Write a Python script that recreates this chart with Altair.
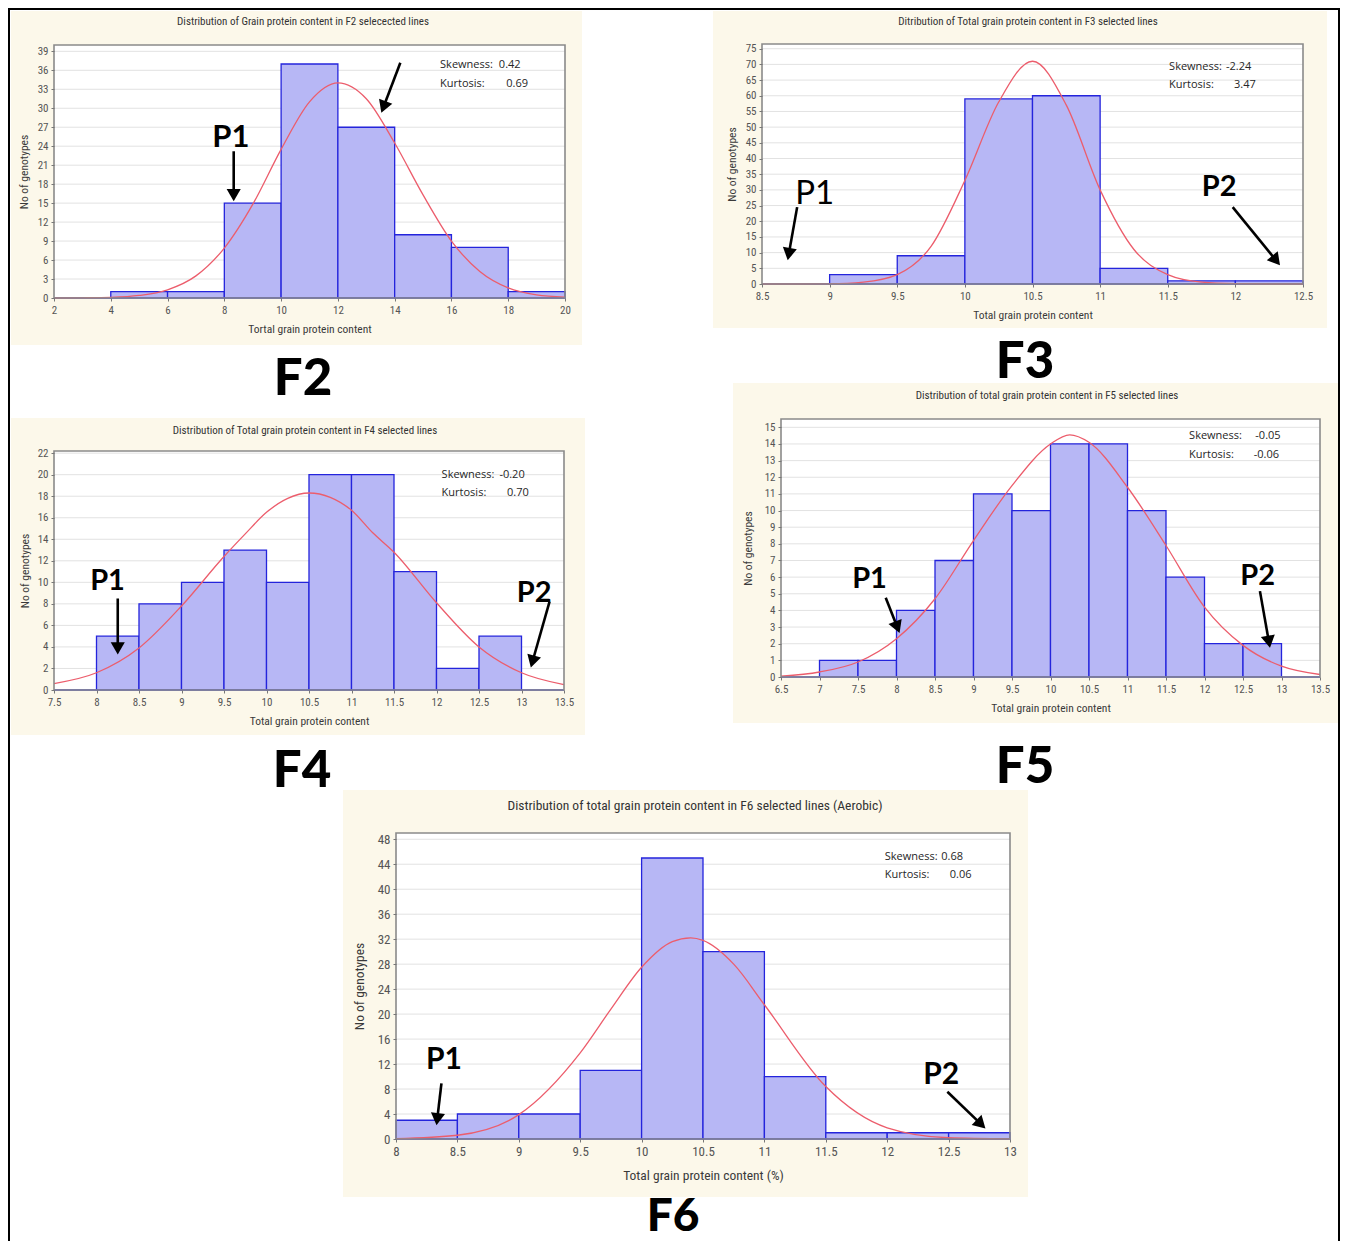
import math
import altair as alt
import pandas as pd

# ---------------- values ----------------
F2_EDGES = [2, 4, 6, 8, 10, 12, 14, 16, 18, 20]
F2_COUNTS = [0, 1, 1, 15, 37, 27, 10, 8, 1]
F2_CURVE_X = [2, 3, 4, 5, 6, 7, 8, 9, 10, 11, 12, 13, 14, 15, 16, 17, 18, 19, 20]
F2_CURVE_Y = [0.0, 0.03, 0.1, 0.4, 1.3, 3.5, 7.9, 14.8, 23.5, 31.0, 34.0, 31.5, 24.5, 16.3, 9.0, 4.2, 1.6, 0.5, 0.15]
F2_STATS = ["0.42", "0.69"]

F3_EDGES = [8.5, 9, 9.5, 10, 10.5, 11, 11.5, 12, 12.5]
F3_COUNTS = [0, 3, 9, 59, 60, 5, 1, 1]
F3_CURVE_X = [8.5, 8.75, 9, 9.25, 9.5, 9.75, 10, 10.25, 10.5, 10.75, 11, 11.25, 11.5, 11.75, 12, 12.25, 12.5]
F3_CURVE_Y = [0, 0, 0.05, 0.6, 3, 12, 33, 58, 71, 57, 30, 11, 3, 0.6, 0.1, 0, 0]
F3_STATS = ["-2.24", "3.47"]

F4_EDGES = [7.5, 8, 8.5, 9, 9.5, 10, 10.5, 11, 11.5, 12, 12.5, 13, 13.5]
F4_COUNTS = [0, 5, 8, 10, 13, 10, 20, 20, 11, 2, 5, 0]
F4_CURVE_X = [7.5, 8, 8.5, 9, 9.5, 9.75, 10, 10.25, 10.5, 10.75, 11, 11.25, 11.5, 12, 12.5, 13, 13.5]
F4_CURVE_Y = [0.6, 1.6, 3.9, 7.8, 12.4, 14.5, 16.5, 17.8, 18.3, 17.9, 16.7, 14.6, 12.8, 8.1, 4.0, 1.6, 0.5]
F4_STATS = ["-0.20", "0.70"]

F5_EDGES = [6.5, 7, 7.5, 8, 8.5, 9, 9.5, 10, 10.5, 11, 11.5, 12, 12.5, 13, 13.5]
F5_COUNTS = [0, 1, 1, 4, 7, 11, 10, 14, 14, 10, 6, 2, 2, 0]
F5_CURVE_X = [6.5, 7, 7.5, 8, 8.5, 9, 9.5, 10, 10.25, 10.5, 11, 11.5, 12, 12.5, 13, 13.5]
F5_CURVE_Y = [0.05, 0.3, 0.9, 2.3, 4.7, 8.2, 11.5, 14.0, 14.55, 14.1, 11.4, 7.9, 4.2, 1.9, 0.65, 0.15]
F5_STATS = ["-0.05", "-0.06"]

F6_EDGES = [8, 8.5, 9, 9.5, 10, 10.5, 11, 11.5, 12, 12.5, 13]
F6_COUNTS = [3, 4, 4, 11, 45, 30, 10, 1, 1, 1]
F6_CURVE_X = [8, 8.5, 9, 9.5, 9.75, 10, 10.25, 10.4, 10.5, 10.75, 11, 11.5, 12, 12.5, 13]
F6_CURVE_Y = [0.05, 0.6, 3.9, 13.8, 20.8, 27.5, 31.6, 32.2, 31.8, 28.0, 21.5, 8.4, 1.8, 0.2, 0.02]
F6_STATS = ["0.68", "0.06"]

TITLES = {
    "F2": "Distribution of Grain protein content in F2 selecected lines",
    "F3": "Ditribution of Total grain protein content in F3 selected lines",
    "F4": "Distribution of Total grain protein content in F4 selected lines",
    "F5": "Distribution of total grain protein content in F5 selected lines",
    "F6": "Distribution of total grain protein content in F6 selected lines (Aerobic)",
}
XTITLES = {
    "F2": "Tortal grain protein content",
    "F3": "Total grain protein content",
    "F4": "Total grain protein content",
    "F5": "Total grain protein content",
    "F6": "Total grain protein content (%)",
}
YTITLE = "No of genotypes"
STAT_LABELS = ["Skewness:", "Kurtosis:"]

X_TICKS = {
    "F2": [2, 4, 6, 8, 10, 12, 14, 16, 18, 20],
    "F3": [8.5, 9, 9.5, 10, 10.5, 11, 11.5, 12, 12.5],
    "F4": [7.5, 8, 8.5, 9, 9.5, 10, 10.5, 11, 11.5, 12, 12.5, 13, 13.5],
    "F5": [6.5, 7, 7.5, 8, 8.5, 9, 9.5, 10, 10.5, 11, 11.5, 12, 12.5, 13, 13.5],
    "F6": [8, 8.5, 9, 9.5, 10, 10.5, 11, 11.5, 12, 12.5, 13],
}
Y_TICKS = {
    "F2": [0, 3, 6, 9, 12, 15, 18, 21, 24, 27, 30, 33, 36, 39],
    "F3": [0, 5, 10, 15, 20, 25, 30, 35, 40, 45, 50, 55, 60, 65, 70, 75],
    "F4": [0, 2, 4, 6, 8, 10, 12, 14, 16, 18, 20, 22],
    "F5": [0, 1, 2, 3, 4, 5, 6, 7, 8, 9, 10, 11, 12, 13, 14, 15],
    "F6": [0, 4, 8, 12, 16, 20, 24, 28, 32, 36, 40, 44, 48],
}

DATA = {
    "F2": (F2_EDGES, F2_COUNTS, F2_CURVE_X, F2_CURVE_Y, F2_STATS),
    "F3": (F3_EDGES, F3_COUNTS, F3_CURVE_X, F3_CURVE_Y, F3_STATS),
    "F4": (F4_EDGES, F4_COUNTS, F4_CURVE_X, F4_CURVE_Y, F4_STATS),
    "F5": (F5_EDGES, F5_COUNTS, F5_CURVE_X, F5_CURVE_Y, F5_STATS),
    "F6": (F6_EDGES, F6_COUNTS, F6_CURVE_X, F6_CURVE_Y, F6_STATS),
}

# ---------------- layout / styling (page pixel coordinates) ----------------
# each panel is a tile (grid cell); the plot area sits inside it at "plot"
LAYOUT = {
    "F2": dict(tile=(8, 8, 650, 408), plot=(54, 45, 511, 253), cream=(11, 11, 582, 345),
               xdom=(2, 20), ydom=(0, 40), title=(303, 22),
               fs_lab=11, fs_title=11, fs_axt=11.5, ytp=8, xtp=8, lp=3),
    "F3": dict(tile=(650, 8, 1340, 330), plot=(762, 44, 541, 240), cream=(713, 11, 1327, 328),
               xdom=(8.5, 12.5), ydom=(0, 76.5), title=(1028, 22),
               fs_lab=11, fs_title=11, fs_axt=11.5, ytp=8, xtp=8, lp=3),
    "F4": dict(tile=(8, 408, 650, 740), plot=(54, 451, 510, 239), cream=(11, 418, 585, 735),
               xdom=(7.5, 13.5), ydom=(0, 22.2), title=(305, 431),
               fs_lab=11, fs_title=11, fs_axt=11.5, ytp=7, xtp=8, lp=3),
    "F5": dict(tile=(650, 330, 1340, 740), plot=(781, 419, 539, 258), cream=(733, 383, 1338, 723),
               xdom=(6.5, 13.5), ydom=(0, 15.5), title=(1047, 396),
               fs_lab=11, fs_title=11, fs_axt=11.5, ytp=11, xtp=8, lp=3),
    "F6": dict(tile=(8, 740, 1340, 1253), plot=(396, 833, 614, 306), cream=(343, 790, 1028, 1197),
               xdom=(8, 13), ydom=(0, 49), title=(695, 806),
               fs_lab=13, fs_title=13.5, fs_axt=13.5, ytp=11, xtp=10, lp=3),
}
# big generation labels: (text, tile that hosts it, centre x, baseline y, font size)
BIG_LABELS = [("F2", "F2", 303, 395, 51), ("F3", "F5", 1025, 378, 51), ("F4", "F6", 302, 787, 51),
              ("F5", "F6", 1025, 783, 51), ("F6", "F6", 673, 1231, 46)]
# outer frame pieces (page coords x0, x1, y0, y1) per hosting tile
BORDER = {
    "F2": [(8, 10, 8, 408), (8, 650, 8, 10)],
    "F3": [(650, 1340, 8, 10), (1338, 1340, 8, 330)],
    "F4": [(8, 10, 408, 740)],
    "F5": [(1338, 1340, 330, 740)],
    "F6": [(8, 10, 740, 1253), (1338, 1340, 740, 1253)],
}

# annotation positions in data coordinates
ANNOT = {
    "F2": dict(p=[("P1", 8.23, 25.3, 31, "bold")],
               arrows=[(8.33, 23.2, 8.33, 15.3), (14.2, 37.2, 13.53, 29.3)],
               stats=(15.6, 17.67, 17.93, 36.9, 33.9)),
    "F3": dict(p=[("P1", 8.89, 28.8, 33, "normal"), ("P2", 11.88, 30.9, 29, "bold")],
               arrows=[(8.76, 24.5, 8.69, 7.6), (11.98, 24.5, 12.33, 6.0)],
               stats=(11.51, 11.93, 11.99, 69.2, 63.5)),
    "F4": dict(p=[("P1", 8.13, 10.1, 29, "bold"), ("P2", 13.15, 9.0, 29, "bold")],
               arrows=[(8.25, 8.5, 8.25, 3.3), (13.33, 8.2, 13.11, 2.1)],
               stats=(12.06, 12.74, 12.83, 20.0, 18.3)),
    "F5": dict(p=[("P1", 7.65, 5.86, 29, "bold"), ("P2", 12.69, 6.06, 29, "bold")],
               arrows=[(7.86, 4.76, 8.04, 2.65), (12.72, 5.16, 12.85, 1.75)],
               stats=(11.8, 12.66, 12.64, 14.46, 13.33)),
    "F6": dict(p=[("P1", 8.39, 12.6, 30, "bold"), ("P2", 12.44, 10.2, 30, "bold")],
               arrows=[(8.37, 8.9, 8.33, 2.2), (12.49, 7.56, 12.80, 1.7)],
               stats=(11.98, 12.44, 12.51, 45.2, 42.3)),
}

NARROW = "Liberation Sans Narrow, Arial Narrow, Roboto Condensed, Liberation Sans, sans-serif"
STATFONT = "Open Sans, Liberation Sans, sans-serif"
BIGFONT = "Lato, Open Sans, Liberation Sans, sans-serif"
CREAM = "#fcf8ea"
BAR_FILL = "#b7b7f5"
BAR_STROKE = "#2424dc"
CURVE = "#ec5d6c"
FRAME = "#8a8a8a"
GRID = "#e2e2e2"
ARROW_SIZE = 200


def one():
    return pd.DataFrame({"k": [0]})


def vrect(x0, x1, y0, y1, **kw):
    return alt.Chart(one()).mark_rect(**kw).encode(
        x=alt.value(x0), x2=alt.value(x1), y=alt.value(y0), y2=alt.value(y1))


def make_panel(key):
    L = LAYOUT[key]
    A = ANNOT[key]
    edges, counts, cx, cy, stats = DATA[key]
    tx0, ty0, tx1, ty1 = L["tile"]
    TW, TH = tx1 - tx0, ty1 - ty0
    pl, pt, W, H = L["plot"]
    # plot area relative to the tile
    rl, rt = pl - tx0, pt - ty0
    rr, rb = rl + W, rt + H
    x0, x1 = L["xdom"]
    y0, y1 = L["ydom"]

    xs = alt.Scale(domain=[x0, x1], range=[rl, rr], nice=False, zero=False)
    ys = alt.Scale(domain=[y0, y1], range=[rb, rt], nice=False, zero=False)
    xax = alt.Axis(title=XTITLES[key], values=X_TICKS[key], format="~g", grid=False, domain=False,
                   offset=-(TH - rb), tickSize=3, tickColor="#777", labelFont=NARROW,
                   labelFontSize=L["fs_lab"], labelColor="#555", labelPadding=L["lp"],
                   labelFlush=False, labelOverlap=False,
                   titleFont=NARROW, titleFontSize=L["fs_axt"], titleFontWeight="normal",
                   titleColor="#3a3a3a", titlePadding=L["xtp"], zindex=1)
    yax = alt.Axis(title=YTITLE, values=Y_TICKS[key], format="d", grid=False, domain=False,
                   offset=-rl, tickSize=3, tickColor="#777", labelFont=NARROW,
                   labelFontSize=L["fs_lab"], labelColor="#555", labelPadding=3, labelOverlap=False,
                   titleFont=NARROW, titleFontSize=L["fs_axt"], titleFontWeight="normal",
                   titleColor="#3a3a3a", titlePadding=L["ytp"], zindex=1)

    def X(f):
        return alt.X(f, type="quantitative", scale=xs, axis=xax)

    def Y(f):
        return alt.Y(f, type="quantitative", scale=ys, axis=yax)

    def tox(v):
        return rl + (v - x0) / (x1 - x0) * W

    def toy(v):
        return rb - (v - y0) / (y1 - y0) * H

    def fromx(p):
        return x0 + (p - rl) / W * (x1 - x0)

    def fromy(p):
        return y0 + (rb - p) / H * (y1 - y0)

    layers = []
    # cream panel background
    c0, c1, c2, c3 = L["cream"]
    layers.append(vrect(c0 - tx0, c2 - tx0, c1 - ty0, c3 - ty0, fill=CREAM))
    # white plot area
    layers.append(vrect(rl, rr, rt, rb, fill="white"))
    # horizontal grid lines
    grid_df = pd.DataFrame({"g": [v for v in Y_TICKS[key] if v > y0]})
    layers.append(alt.Chart(grid_df).mark_rule(color=GRID, strokeWidth=1).encode(
        y=Y("g"), x=alt.value(rl), x2=alt.value(rr)))
    # histogram bars
    bars = pd.DataFrame({"lo": edges[:-1], "hi": edges[1:], "count": counts})
    layers.append(alt.Chart(bars).mark_rect(fill=BAR_FILL, stroke=BAR_STROKE, strokeWidth=1.3).encode(
        x=X("lo"), x2="hi:Q", y=Y("count"), y2=alt.datum(0)))
    # fitted normal curve
    curve = pd.DataFrame({"cx": cx, "cy": cy})
    layers.append(alt.Chart(curve).mark_line(color=CURVE, strokeWidth=1.3, interpolate="monotone").encode(
        x=X("cx"), y=Y("cy")))
    # plot frame
    layers.append(vrect(rl, rr, rt, rb, fillOpacity=0, stroke=FRAME, strokeWidth=1.6))

    # panel title
    tcx, tcy = L["title"]
    layers.append(alt.Chart(pd.DataFrame({"t": [TITLES[key]]})).mark_text(
        font=NARROW, fontSize=L["fs_title"], color="#333", align="center", baseline="middle").encode(
        x=alt.value(tcx - tx0), y=alt.value(tcy - ty0), text="t:N"))

    # skewness / kurtosis text
    lx, vsx, vkx, sy, ky = A["stats"]
    st = pd.DataFrame({"sx": [lx, lx, vsx, vkx], "sy": [sy, ky, sy, ky],
                       "t": [STAT_LABELS[0], STAT_LABELS[1], stats[0], stats[1]]})
    layers.append(alt.Chart(st).mark_text(font=STATFONT, fontSize=11, color="#262626", align="left",
                                           baseline="middle").encode(x=X("sx"), y=Y("sy"), text="t:N"))

    # arrows
    h = math.sqrt(3) * math.sqrt(ARROW_SIZE) / 4
    rows = []
    for (ax, ay, bx, by) in A["arrows"]:
        sx_, sy_ = tox(ax), toy(ay)
        ex, ey = tox(bx), toy(by)
        dx, dy = ex - sx_, ey - sy_
        ln = math.hypot(dx, dy)
        ux, uy = dx / ln, dy / ln
        hx, hy = ex - ux * h, ey - uy * h
        ang = math.degrees(math.atan2(ux, -uy)) % 360
        rows.append({"a1": ax, "b1": ay, "a2": fromx(hx), "b2": fromy(hy), "ang": ang})
    arr = pd.DataFrame(rows)
    layers.append(alt.Chart(arr).mark_rule(color="black", strokeWidth=2.6).encode(
        x=X("a1"), y=Y("b1"), x2="a2:Q", y2="b2:Q"))
    layers.append(alt.Chart(arr).mark_point(shape="triangle-up", filled=True, size=ARROW_SIZE,
                                            color="black", opacity=1).encode(
        x=X("a2"), y=Y("b2"), angle=alt.Angle("ang:Q", scale=None)))

    # P1 / P2 labels
    for (txt, tx, ty, fs, fw) in A["p"]:
        pdf = pd.DataFrame({"px_": [tx], "py_": [ty], "t": [txt]})
        layers.append(alt.Chart(pdf).mark_text(font=BIGFONT, fontSize=fs, fontWeight=fw, color="black",
                                               align="center", baseline="middle").encode(
            x=X("px_"), y=Y("py_"), text="t:N"))

    # big generation labels hosted by this tile
    for (txt, host, bx_, by_, bfs) in BIG_LABELS:
        if host != key:
            continue
        layers.append(alt.Chart(pd.DataFrame({"t": [txt]})).mark_text(
            font=BIGFONT, fontSize=bfs, fontWeight=900, color="black", align="center",
            baseline="alphabetic").encode(x=alt.value(bx_ - tx0), y=alt.value(by_ - ty0), text="t:N"))

    # outer figure frame pieces
    for (a, b, c, d) in BORDER[key]:
        layers.append(vrect(a - tx0, b - tx0, c - ty0, d - ty0, fill="black"))

    return alt.layer(*layers).properties(width=TW, height=TH)


panels = {k: make_panel(k) for k in ["F2", "F3", "F4", "F5", "F6"]}
col_left = alt.vconcat(panels["F2"], panels["F4"], spacing=0)
col_right = alt.vconcat(panels["F3"], panels["F5"], spacing=0)
row1 = alt.hconcat(col_left, col_right, spacing=0)
chart = (alt.vconcat(row1, panels["F6"], spacing=0)
         .properties(padding={"left": 0, "top": 0, "right": 0, "bottom": -12}, background="white")
         .configure_view(strokeWidth=0))

chart.save("out.html", embed_options={"renderer": "svg", "actions": False})
